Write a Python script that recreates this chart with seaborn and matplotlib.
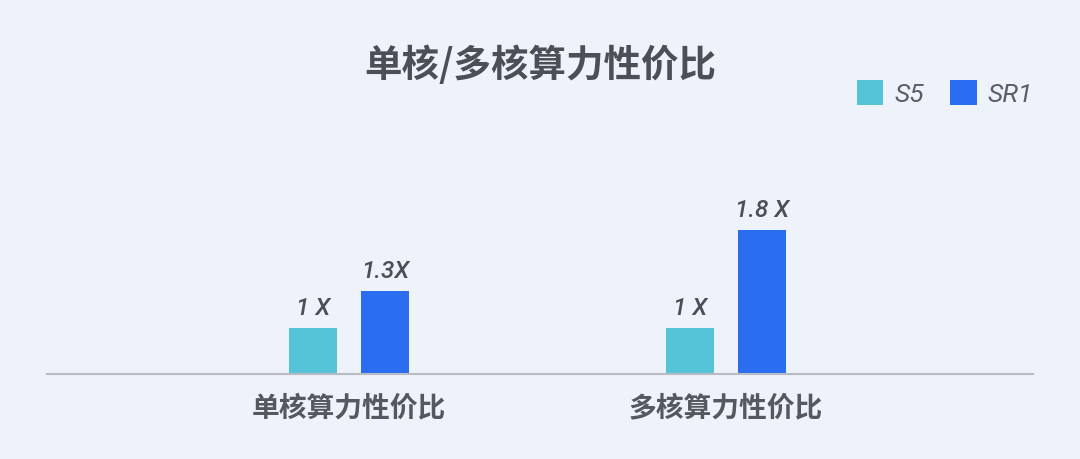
import matplotlib
matplotlib.use('Agg')
import matplotlib.pyplot as plt
import seaborn as sns
import pandas as pd

# chart data
categories = ['单核算力性价比', '多核算力性价比']
series = ['S5', 'SR1']
s5_values = [1.0, 1.0]
sr1_values = [1.3, 1.8]
s5_labels = ['1 X', '1 X']
sr1_labels = ['1.3X', '1.8 X']
title = '单核/多核算力性价比'

bg = '#EEF2FB'
colors = ['#56C4D8', '#2B6DF0']
text_color = '#4B4F56'

sns.set_theme(style='white', rc={'axes.facecolor': bg, 'figure.facecolor': bg})
plt.rcParams['font.family'] = ['Noto Sans CJK SC', 'DejaVu Sans']

df = pd.DataFrame({
    'category': categories * 2,
    'series': [series[0]] * len(categories) + [series[1]] * len(categories),
    'value': s5_values + sr1_values,
})

fig = plt.figure(figsize=(10.8, 4.6), dpi=100)
ax = fig.add_axes([47 / 1080, 85 / 460, 986 / 1080, 224 / 460])

sns.barplot(data=df, x='category', y='value', hue='series', palette=colors,
            saturation=1, width=0.382, gap=0.333, linewidth=0, ax=ax)

# value labels above bars
for container, lbls in zip(ax.containers, [s5_labels, sr1_labels]):
    for bar, lbl in zip(container, lbls):
        ax.annotate(lbl, (bar.get_x() + bar.get_width() / 2, bar.get_height()),
                    xytext=(0, 14.5), textcoords='offset points',
                    ha='center', va='center', fontsize=17.5, style='italic',
                    fontweight='medium', color=text_color,
                    family=['Roboto', 'DejaVu Sans'])

ax.set_ylim(0.62, 0.62 + 224 / 122)
ax.set_xlim(-0.801, 1.814)
ax.set_xlabel('')
ax.set_ylabel('')
ax.set_yticks([])
for side in ['top', 'left', 'right']:
    ax.spines[side].set_visible(False)
ax.spines['bottom'].set_color('#B8BBC2')
ax.spines['bottom'].set_linewidth(1.5)
ax.tick_params(axis='x', length=0, pad=14, labelsize=20, labelcolor='#54585F')
for t in ax.get_xticklabels():
    t.set_fontweight('bold')

# legend top right
handles, labels = ax.get_legend_handles_labels()
ax.get_legend().remove()
fig.legend(handles, labels, loc='center right',
           bbox_to_anchor=(1033 / 1080, (460 - 94) / 460), ncol=2,
           frameon=False, handlelength=1.0, handleheight=1.1,
           handletextpad=0.42, columnspacing=1.0, borderaxespad=0, borderpad=0,
           prop={'family': ['Roboto', 'DejaVu Sans'], 'size': 19, 'style': 'italic'},
           labelcolor='#5A5F66')

fig.text(0.5, (460 - 65) / 460, title, ha='center', va='center',
         fontsize=27, fontweight='bold', color=text_color)

fig.savefig('out.png', dpi=100, facecolor=bg)
